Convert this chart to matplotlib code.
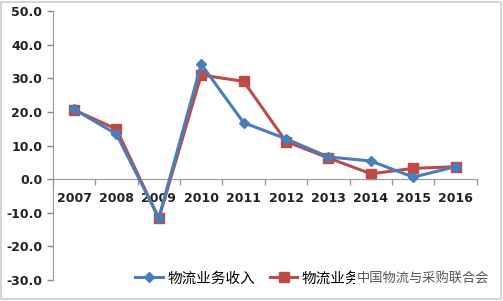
import matplotlib
matplotlib.use("Agg")
import matplotlib.pyplot as plt
from matplotlib.patches import Rectangle

plt.rcParams['font.family'] = ['Noto Sans CJK SC', 'DejaVu Sans']

years = ['2007', '2008', '2009', '2010', '2011', '2012', '2013', '2014', '2015', '2016']
revenue = [20.8, 13.4, -11.5, 34.2, 16.8, 12.0, 6.6, 5.4, 0.6, 3.7]
cost = [20.6, 14.9, -11.7, 31.0, 29.1, 11.2, 6.3, 1.6, 3.2, 3.7]
labels = ['物流业务收入', '物流业务成本']
yticks = [-30, -20, -10, 0, 10, 20, 30, 40, 50]

fig = plt.figure(figsize=(5.03, 3.01), dpi=100)
ax = fig.add_axes([0.105, 0.07, 0.843, 0.893])

x = list(range(len(years)))
ax.plot(x, revenue, color='#4a7ebb', lw=2.2, marker='D', ms=5.5, label=labels[0], zorder=3)
ax.plot(x, cost, color='#be4b48', lw=2.2, marker='s', ms=7.5, label=labels[1], zorder=2)

ax.set_xlim(-0.5, len(years) - 0.5)
ax.set_ylim(-30, 50)
ax.set_yticks(yticks)
ax.set_yticklabels([f'{v:.1f}' for v in yticks], fontsize=9, fontweight='bold', color='#222222',
                   family='DejaVu Sans')
ax.tick_params(axis='y', length=4, color='#888888', width=1)

ax.spines['top'].set_visible(False)
ax.spines['right'].set_visible(False)
ax.spines['left'].set_color('#999999')
ax.spines['bottom'].set_color('#999999')
ax.spines['bottom'].set_position(('data', 0))

ax.set_xticks(x)
ax.set_xticklabels(years, fontsize=9, fontweight='bold', color='#222222', family='DejaVu Sans')
ax.tick_params(axis='x', which='major', length=0, pad=9)
ax.set_xticks([i - 0.5 for i in range(len(years) + 1)], minor=True)
ax.tick_params(axis='x', which='minor', length=4, color='#999999', width=1)

leg = fig.legend(loc='center left', bbox_to_anchor=(0.243, 0.075), ncol=2, frameon=False,
                 prop={'family': 'Noto Sans CJK SC', 'size': 10.5}, handlelength=1.9,
                 columnspacing=1.0, handletextpad=0.3)

fig.text(0.84, 0.075, '中国物流与采购联合会', fontsize=9.5, color='#555555', ha='center', va='center',
         family='Noto Sans CJK SC', zorder=10,
         bbox=dict(facecolor='white', edgecolor='none', pad=1.0))

fig.patches.append(Rectangle((0.002, 0.005), 0.994, 0.99, transform=fig.transFigure,
                             fill=False, edgecolor='#cccccc', lw=1.2))

fig.savefig('out.png', dpi=100)
